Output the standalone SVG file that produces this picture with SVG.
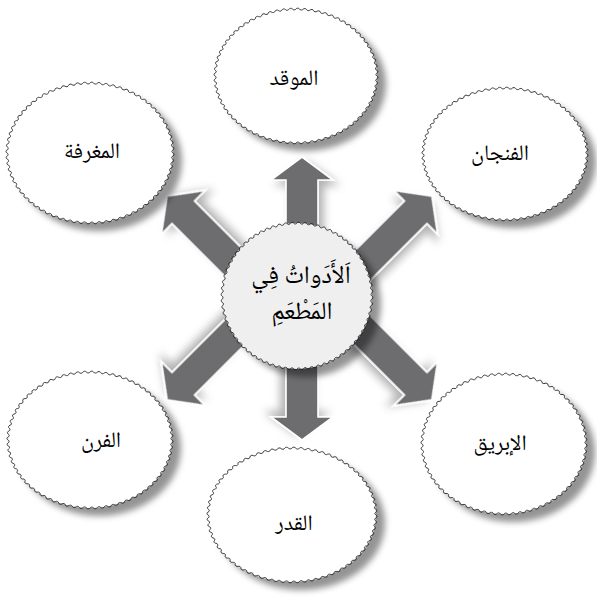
<svg xmlns="http://www.w3.org/2000/svg" xmlns:xlink="http://www.w3.org/1999/xlink" width="597" height="601" viewBox="0 0 597 601">
<style>
.sh{fill:#000;fill-opacity:0.42;filter:url(#blur);}
.bub{fill:#fff;}
.core{fill:#efefef;}
.wave{fill:none;stroke:#262626;stroke-width:0.9;vector-effect:non-scaling-stroke;}
.arr{fill:#6d6d70;stroke:#fff;stroke-width:1.6;stroke-linejoin:miter;filter:url(#ash);}
.lbl{font-family:"Noto Naskh Arabic","Amiri","Scheherazade New","Liberation Serif","DejaVu Sans",serif;font-size:22px;text-anchor:middle;fill:#000;}
.ttl{font-size:25px;}
</style>
<defs>
<filter id="blur" x="-20%" y="-20%" width="140%" height="140%"><feGaussianBlur stdDeviation="3"/></filter>
<filter id="ash" x="-30%" y="-30%" width="160%" height="160%"><feDropShadow dx="5" dy="5" stdDeviation="4" flood-color="#000" flood-opacity="0.3"/></filter>
<path id="q" class="wave" d="M100,0 A2.5,2.5 0 0 1 99.90,4.36 A2.5,2.5 0 0 0 99.62,8.72 A2.5,2.5 0 0 1 99.14,13.05 A2.5,2.5 0 0 0 98.48,17.36 A2.5,2.5 0 0 1 97.63,21.64 A2.5,2.5 0 0 0 96.59,25.88 A2.5,2.5 0 0 1 95.37,30.07 A2.5,2.5 0 0 0 93.97,34.20 A2.5,2.5 0 0 1 92.39,38.27 A2.5,2.5 0 0 0 90.63,42.26 A2.5,2.5 0 0 1 88.70,46.17 A2.5,2.5 0 0 0 86.60,50 A2.5,2.5 0 0 1 84.34,53.73 A2.5,2.5 0 0 0 81.92,57.36 A2.5,2.5 0 0 1 79.34,60.88 A2.5,2.5 0 0 0 76.60,64.28 A2.5,2.5 0 0 1 73.73,67.56 A2.5,2.5 0 0 0 70.71,70.71 A2.5,2.5 0 0 1 67.56,73.73 A2.5,2.5 0 0 0 64.28,76.60 A2.5,2.5 0 0 1 60.88,79.34 A2.5,2.5 0 0 0 57.36,81.92 A2.5,2.5 0 0 1 53.73,84.34 A2.5,2.5 0 0 0 50,86.60 A2.5,2.5 0 0 1 46.17,88.70 A2.5,2.5 0 0 0 42.26,90.63 A2.5,2.5 0 0 1 38.27,92.39 A2.5,2.5 0 0 0 34.20,93.97 A2.5,2.5 0 0 1 30.07,95.37 A2.5,2.5 0 0 0 25.88,96.59 A2.5,2.5 0 0 1 21.64,97.63 A2.5,2.5 0 0 0 17.36,98.48 A2.5,2.5 0 0 1 13.05,99.14 A2.5,2.5 0 0 0 8.72,99.62 A2.5,2.5 0 0 1 4.36,99.90 A2.5,2.5 0 0 0 0,100"/>
<g id="wv">
<use xlink:href="#q"/>
<use xlink:href="#q" transform="rotate(90)"/>
<use xlink:href="#q" transform="rotate(180)"/>
<use xlink:href="#q" transform="rotate(270)"/>
</g>
<path id="arrow" d="M0,0 L31,23 L16,23 L16,150 L-16,150 L-16,23 L-31,23 Z"/>
</defs>

<rect width="597" height="601" fill="#fff"/>

<g id="connectors">
<use xlink:href="#arrow" class="arr" transform="translate(302,157)"/>
<use xlink:href="#arrow" class="arr" transform="translate(302,440) rotate(180)"/>
<use xlink:href="#arrow" class="arr" transform="translate(167,196) rotate(-45)"/>
<use xlink:href="#arrow" class="arr" transform="translate(432,196) rotate(45)"/>
<use xlink:href="#arrow" class="arr" transform="translate(167,400) rotate(-135)"/>
<use xlink:href="#arrow" class="arr" transform="translate(432,400) rotate(135)"/>
</g>

<g id="node-top">
<ellipse class="sh" cx="305" cy="84" rx="81" ry="67"/>
<ellipse class="bub" cx="296" cy="76" rx="81" ry="67"/>
<use xlink:href="#wv" transform="translate(296,76) scale(0.81,0.67)"/>
<text class="lbl" x="294" y="85">الموقد</text>
</g>

<g id="node-topleft">
<ellipse class="sh" cx="99" cy="161" rx="83" ry="70"/>
<ellipse class="bub" cx="90" cy="153" rx="83" ry="70"/>
<use xlink:href="#wv" transform="translate(90,153) scale(0.83,0.70)"/>
<text class="lbl" x="92" y="158">المغرفة</text>
</g>

<g id="node-topright">
<ellipse class="sh" cx="514" cy="162" rx="82" ry="66"/>
<ellipse class="bub" cx="505" cy="154" rx="82" ry="66"/>
<use xlink:href="#wv" transform="translate(505,154) scale(0.82,0.66)"/>
<text class="lbl" x="500" y="160">الفنجان</text>
</g>

<g id="node-bottomright">
<ellipse class="sh" cx="513" cy="452" rx="82" ry="70"/>
<ellipse class="bub" cx="504" cy="444" rx="82" ry="70"/>
<use xlink:href="#wv" transform="translate(504,444) scale(0.82,0.70)"/>
<text class="lbl" x="500" y="450">الإبريق</text>
</g>

<g id="node-bottomleft">
<ellipse class="sh" cx="99" cy="448" rx="82" ry="68"/>
<ellipse class="bub" cx="90" cy="440" rx="82" ry="68"/>
<use xlink:href="#wv" transform="translate(90,440) scale(0.82,0.68)"/>
<text class="lbl" x="101" y="447">الفرن</text>
</g>

<g id="node-bottom">
<ellipse class="sh" cx="301" cy="523" rx="84" ry="67"/>
<ellipse class="bub" cx="292" cy="515" rx="84" ry="67"/>
<use xlink:href="#wv" transform="translate(292,515) scale(0.84,0.67)"/>
<text class="lbl" x="294" y="530">القدر</text>
</g>

<g id="node-center">
<ellipse class="sh" cx="306" cy="304" rx="75" ry="73"/>
<ellipse class="core" cx="297" cy="296" rx="75" ry="73"/>
<use xlink:href="#wv" transform="translate(297,296) scale(0.75,0.73)"/>
<text class="lbl ttl" x="301" y="283">اَلأَدَواتُ فِي</text>
<text class="lbl ttl" x="302" y="319">المَطْعَمِ</text>
</g>
</svg>
